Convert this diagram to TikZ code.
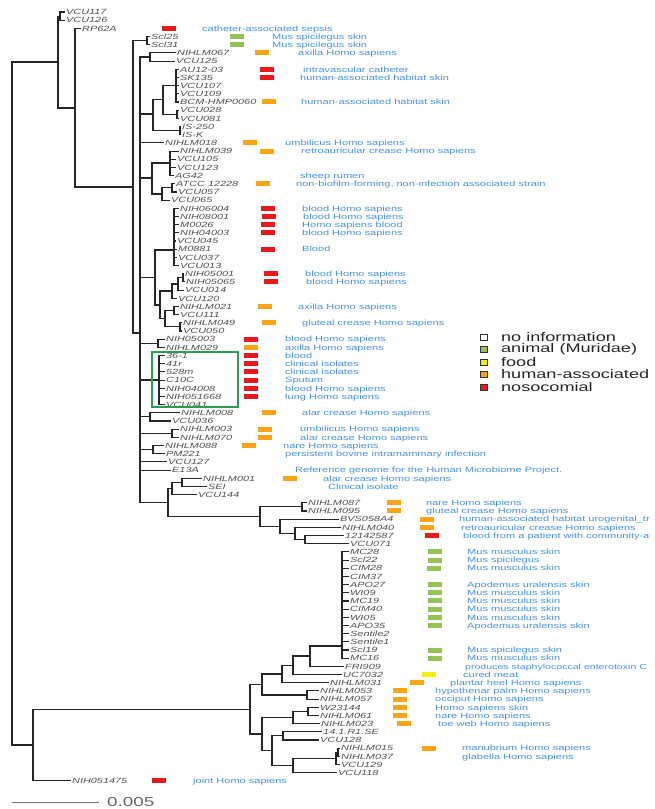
\documentclass[tikz,border=0pt]{standalone}
\usepackage{fontspec}
\setmainfont{Liberation Sans}
\newfontfamily\widesans{Liberation Sans}[FakeStretch=1.45]
\usepackage{xcolor}
\usetikzlibrary{positioning}
\definecolor{noso}{RGB}{235, 25, 25}
\definecolor{human}{RGB}{250, 165, 20}
\definecolor{animal}{RGB}{150, 195, 85}
\definecolor{food}{RGB}{242, 238, 20}
\definecolor{notecol}{RGB}{70, 145, 230}
\definecolor{tipcol}{RGB}{80, 80, 80}
\definecolor{boxgreen}{RGB}{40, 160, 80}
\newcommand{\rowy}[1]{12+(#1-1)*8.18}

\begin{document}
\begin{tikzpicture}[
  x=1pt, y=-1pt,
  branch/.style={draw=black!85, line width=1.1pt, line cap=rect},
  tip/.style={anchor=west, inner sep=1.5pt, text height=5.5pt, text depth=0pt,
    text=tipcol, font=\widesans\itshape\fontsize{7.5}{8}\selectfont},
  bar/.style={anchor=west, inner sep=0pt, minimum width=14pt, minimum height=5pt},
  note/.style={anchor=west, inner sep=0pt, text height=5.5pt, text depth=0pt,
    text=notecol, font=\widesans\fontsize{7.6}{9}\selectfont},
  keybox/.style={draw=black!80, line width=0.8pt, minimum width=7pt,
    minimum height=6pt, inner sep=0pt},
  keytext/.style={inner sep=0pt, text=black!85, font=\widesans\fontsize{12.5}{13}\selectfont},
  selbox/.style={draw=boxgreen, line width=2.2pt}
]
\useasboundingbox (0,0) rectangle (654,809);

% tips of the tree, one row each
\foreach \nm/\lab/\lx [count=\i] in {vcu117/VCU117/66, vcu126/VCU126/66, rp62a/RP62A/82,
  scl25/Scl25/151, scl31/Scl31/151, nihlm067/NIHLM067/177, vcu125/VCU125/176,
  au1203/AU12-03/180, sk135/SK135/180, vcu107/VCU107/180, vcu109/VCU109/180,
  bcm/BCM-HMP0060/180, vcu028/VCU028/180, vcu081/VCU081/180, is250/IS-250/182,
  isk/IS-K/182, nihlm018/NIHLM018/165, nihlm039/NIHLM039/180, vcu105/VCU105/177,
  vcu123/VCU123/177, ag42/AG42/175, atcc/ATCC 12228/176, vcu057/VCU057/178,
  vcu065/VCU065/171, nih06004/NIH06004/180, nih08001/NIH08001/180, m0026/M0026/180,
  nih04003/NIH04003/180, vcu045/VCU045/177, m0881/M0881/178, vcu037/VCU037/178,
  vcu013/VCU013/180, nih05001/NIH05001/185, nih05065/NIH05065/186, vcu014/VCU014/185,
  vcu120/VCU120/178, nihlm021/NIHLM021/180, vcu111/VCU111/180, nihlm049/NIHLM049/183,
  vcu050/VCU050/183, nih05003/NIH05003/166, nihlm029/NIHLM029/166, s361/36-1/166,
  s41r/41r/166, s528m/528m/166, c10c/C10C/166, nih04008/NIH04008/166,
  nih051668/NIH051668/166, vcu041/VCU041/166, nihlm008/NIHLM008/181, vcu036/VCU036/172,
  nihlm003/NIHLM003/180, nihlm070/NIHLM070/180, nihlm088/NIHLM088/165, pm221/PM221/166,
  vcu127/VCU127/168, e13a/E13A/172, nihlm001/NIHLM001/203, sei/SEI/208, vcu144/VCU144/198,
  nihlm087/NIHLM087/308, nihlm095/NIHLM095/308, bvs/BVS058A4/340, nihlm040/NIHLM040/342,
  n12142587/12142587/345, vcu071/VCU071/350, mc28/MC28/350, scl22/Scl22/350,
  cim28/CIM28/350, cim37/CIM37/350, apo27/APO27/350, wi09/WI09/350, mc19/MC19/350,
  cim40/CIM40/350, wi05/WI05/350, apo35/APO35/350, sentile2/Sentile2/350,
  sentile1/Sentile1/350, scl19/Scl19/350, mc16/MC16/350, fri909/FRI909/345,
  uc7032/UC7032/343, nihlm031/NIHLM031/330, nihlm053/NIHLM053/320, nihlm057/NIHLM057/320,
  w23144/W23144/320, nihlm061/NIHLM061/320, nihlm023/NIHLM023/321, r1se/14.1.R1.SE/323,
  vcu128/VCU128/320, nihlm015/NIHLM015/341, nihlm037/NIHLM037/341, vcu129/VCU129/341,
  vcu118/VCU118/338, nih051475/NIH051475/72}
  \node[tip] (\nm) at ({\lx-1.5},{\rowy{\i}}) {\lab};

% inner nodes
\coordinate (root) at (12,400);
\coordinate (a) at (58,62);      \coordinate (c117) at (60,16.1);
\coordinate (b) at (75,108);     \coordinate (c) at (133,187);
\coordinate (sclc) at (147,40.6); \coordinate (d) at (140,333);
\coordinate (n067) at (150,57);  \coordinate (ng2) at (153,114);
\coordinate (ng1) at (163,99.5); \coordinate (nau) at (176,85.6);
\coordinate (n028) at (177,114.3); \coordinate (nis) at (180,130.6);
\coordinate (ng3) at (152,178);  \coordinate (n039) at (170,163);
\coordinate (n065) at (162,194); \coordinate (natcc) at (172,187.9);
\coordinate (nx3) at (155,277.5); \coordinate (nblood) at (174,250);
\coordinate (nx2) at (160,305);  \coordinate (n120) at (172,291);
\coordinate (n014) at (178,284); \coordinate (n0501) at (183,277.9);
\coordinate (nx1) at (165,318.7); \coordinate (n021) at (174,310.6);
\coordinate (n049) at (180,326.9); \coordinate (n05003) at (158,343.3);
\coordinate (ngreen) at (159,380); \coordinate (n008) at (150,416.9);
\coordinate (n003) at (172,433.3); \coordinate (n088) at (153,449.6);
\coordinate (n144) at (168,502.5); \coordinate (nsei) at (172,488.5);
\coordinate (c001) at (182,482.4); \coordinate (nmid) at (260,516.6);
\coordinate (n087) at (302,506.9); \coordinate (nbvs) at (280,526.3);
\coordinate (n040) at (295,533.5); \coordinate (n1214) at (305,539.6);
\coordinate (z) at (33,745);     \coordinate (nbot) at (250,709.3);
\coordinate (nup) at (262,684.5); \coordinate (n031) at (282,674);
\coordinate (nuc) at (293,665.3); \coordinate (nfri) at (310,656);
\coordinate (nmc) at (342,646);  \coordinate (c053) at (307,695);
\coordinate (nlow) at (262,734); \coordinate (nw) at (293,717.5);
\coordinate (cw) at (308,711.4); \coordinate (nvcu) at (272,750.6);
\coordinate (c141) at (283,735.9); \coordinate (n015p) at (293,765.4);
\coordinate (n015) at (336,758.5); \coordinate (c015) at (338,752.3);

% branches
\foreach \p/\c in {root/a, root/z, a/c117, a/b, c117/vcu117, c117/vcu126,
  b/rp62a, b/c, c/sclc, c/d, sclc/scl25, sclc/scl31,
  d/n067, d/ng2, d/nihlm018, d/ng3, d/nx3, d/n05003, d/ngreen, d/n008, d/n003,
  d/n088, d/vcu127, d/e13a, d/n144,
  n067/nihlm067, n067/vcu125, ng2/ng1, ng2/nis, ng1/nau, ng1/n028,
  nau/au1203, nau/sk135, nau/vcu107, nau/vcu109, nau/bcm,
  n028/vcu028, n028/vcu081, nis/is250, nis/isk,
  ng3/n039, ng3/n065, n039/nihlm039, n039/vcu105, n039/vcu123, n039/ag42,
  n065/natcc, n065/vcu065, natcc/atcc, natcc/vcu057,
  nx3/nblood, nx3/nx2, nblood/nih06004, nblood/nih08001, nblood/m0026,
  nblood/nih04003, nblood/vcu045, nblood/m0881, nblood/vcu037, nblood/vcu013,
  nx2/n120, nx2/nx1, n120/n014, n120/vcu120, n014/n0501, n014/vcu014,
  n0501/nih05001, n0501/nih05065, nx1/n021, nx1/n049, n021/nihlm021, n021/vcu111,
  n049/nihlm049, n049/vcu050, n05003/nih05003, n05003/nihlm029,
  ngreen/s361, ngreen/s41r, ngreen/s528m, ngreen/c10c, ngreen/nih04008,
  ngreen/nih051668, ngreen/vcu041, n008/nihlm008, n008/vcu036,
  n003/nihlm003, n003/nihlm070, n088/nihlm088, n088/pm221,
  n144/nsei, n144/nmid, nsei/c001, nsei/vcu144, c001/nihlm001, c001/sei,
  nmid/n087, nmid/nbvs, n087/nihlm087, n087/nihlm095, nbvs/bvs, nbvs/n040,
  n040/nihlm040, n040/n1214, n1214/n12142587, n1214/vcu071,
  z/nbot, z/nih051475, nbot/nup, nbot/nlow,
  nup/n031, nup/c053, n031/nuc, n031/nihlm031, nuc/nfri, nuc/uc7032,
  nfri/nmc, nfri/fri909, nmc/mc28, nmc/scl22, nmc/cim28, nmc/cim37, nmc/apo27,
  nmc/wi09, nmc/mc19, nmc/cim40, nmc/wi05, nmc/apo35, nmc/sentile2, nmc/sentile1,
  nmc/scl19, nmc/mc16, c053/nihlm053, c053/nihlm057,
  nlow/nw, nlow/nvcu, nw/cw, nw/nihlm023, cw/w23144, cw/nihlm061,
  nvcu/c141, nvcu/n015p, c141/r1se, c141/vcu128, n015p/n015, n015p/vcu118,
  n015/c015, n015/vcu129, c015/nihlm015, c015/nihlm037}
  \draw[branch] (\p) |- (\c);

% source bars
\foreach \i/\c/\bx in {3/noso/162, 4/animal/230, 5/animal/230, 6/human/255,
  8/noso/260, 9/noso/260, 12/human/262, 17/human/243, 18/human/260, 22/human/256,
  25/noso/261, 26/noso/262, 27/noso/261, 28/noso/261, 30/noso/261, 33/noso/264,
  34/noso/264, 37/human/258, 39/human/262, 41/noso/244, 42/human/244, 43/noso/244,
  44/noso/244, 45/noso/244, 46/noso/244, 47/noso/244, 48/noso/244, 50/human/262,
  52/human/258, 53/human/258, 54/human/242, 58/human/283, 61/human/387,
  62/human/387, 63/human/420, 64/human/420, 65/noso/425, 67/animal/428,
  68/animal/428, 69/animal/427, 71/animal/428, 72/animal/428, 73/animal/428,
  74/animal/428, 75/animal/428, 76/animal/428, 79/animal/428, 80/animal/428,
  82/food/422, 83/human/410, 84/human/393, 85/human/393, 86/human/393,
  87/human/393, 88/human/397, 91/human/422, 95/noso/152}
  \node[bar, fill=\c] (bar\i) at (\bx,{\rowy{\i}}) {};

% isolation notes
\foreach \i/\tx/\t in {3/202/catheter-associated sepsis, 4/272/Mus spicilegus skin,
  5/272/Mus spicilegus skin, 6/298/axilla Homo sapiens, 8/303/intravascular catheter,
  9/300/human-associated habitat skin, 12/301/human-associated habitat skin,
  17/285/umbilicus Homo sapiens, 18/301/retroauricular crease Homo sapiens,
  21/300/sheep rumen, 22/296/{non-biofilm-forming, non-infection associated strain},
  25/302/blood Homo sapiens, 26/303/blood Homo sapiens, 27/302/Homo sapiens blood,
  28/302/blood Homo sapiens, 30/302/Blood, 33/305/blood Homo sapiens,
  34/306/blood Homo sapiens, 37/298/axilla Homo sapiens,
  39/302/gluteal crease Homo sapiens, 41/285/blood Homo sapiens,
  42/285/axilla Homo sapiens, 43/285/blood, 44/285/clinical isolates,
  45/285/clinical isolates, 46/285/Sputum, 47/285/blood Homo sapiens,
  48/285/lung Homo sapiens, 50/302/alar crease Homo sapiens,
  52/300/umbilicus Homo sapiens, 53/300/alar crease Homo sapiens,
  54/283/nare Homo sapiens, 55/285/persistent bovine intramammary infection,
  57/295/Reference genome for the Human Microbiome Project.,
  58/323/alar crease Homo sapiens, 59/328/Clinical isolate,
  61/426/nare Homo sapiens, 62/426/gluteal crease Homo sapiens,
  63/459/human-associated habitat urogenital\_tr,
  64/461/retroauricular crease Homo sapiens,
  65/463/blood from a patient with community-a,
  67/467/Mus musculus skin, 68/467/Mus spicilegus, 69/467/Mus musculus skin,
  71/467/Apodemus uralensis skin, 72/467/Mus musculus skin, 73/467/Mus musculus skin,
  74/467/Mus musculus skin, 75/467/Mus musculus skin, 76/467/Apodemus uralensis skin,
  79/467/Mus spicilegus skin, 80/467/Mus musculus skin, 82/463/cured meat,
  83/450/plantar heel Homo sapiens, 84/435/hypothenar palm Homo sapiens,
  85/435/occiput Homo sapiens, 86/435/Homo sapiens skin, 87/435/nare Homo sapiens,
  88/438/toe web Homo sapiens, 91/462/manubrium Homo sapiens,
  92/462/glabella Homo sapiens, 95/193/joint Homo sapiens}
  \node[note] (note\i) at (\tx,{\rowy{\i}}) {\t};
\node[note, font=\widesans\fontsize{7.3}{9}\selectfont] (note81) at (465,{\rowy{81}})
  {produces staphylococcal enterotoxin C};

% highlighted clade
\draw[selbox] (152,352) rectangle (238,407);

% legend
\foreach \k/\c/\t in {0/white/no information, 1/animal/animal (Muridae), 2/food/food,
  3/human/human-associated, 4/noso/nosocomial} {
  \node[keybox, fill=\c] (key\k) at (484,{337+12.5*\k}) {};
  \node[keytext, right=13pt of key\k] (keytext\k) {\t};
}

% scale bar
\coordinate (sb0) at (12,802);
\coordinate (sb1) at (99,802);
\draw[draw=black!55, line width=0.8pt] (sb0) -- (sb1);
\node[keytext, text=black!60, font=\widesans\fontsize{13}{14}\selectfont,
  right=8pt of sb1] (sblabel) {0.005};

\end{tikzpicture}
\end{document}
